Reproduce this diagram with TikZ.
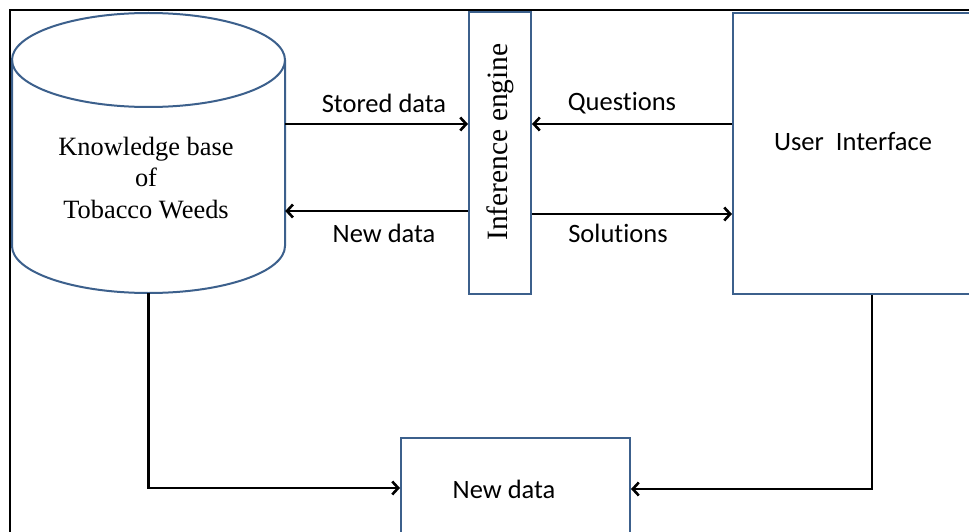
\documentclass[tikz,border=0pt]{standalone}
\usepackage{fontspec}
\setmainfont{Liberation Serif}
\newfontfamily\labelfont[Ligatures=NoCommon]{Carlito}
\usetikzlibrary{arrows.meta}
\definecolor{boxblue}{RGB}{60,96,140}
\begin{document}
\begin{tikzpicture}[x=1pt,y=-1pt,
  block/.style={draw=boxblue,line width=2pt,fill=white,inner sep=0pt},
  arr/.style={line width=2.6pt,-{Straight Barb[length=6pt,width=13pt,line width=2.6pt]}},
  lbl/.style={font=\labelfont\fontsize{26.5}{30}\selectfont,inner sep=0pt},
  serif/.style={font=\fontsize{26.4}{31.5}\selectfont,align=center,inner sep=0pt}]
\useasboundingbox (0,0) rectangle (969,532);
\clip (0,0) rectangle (969,532);
\fill[white] (0,0) rectangle (969,532);
% outer frame
\draw[line width=2pt] (10,10) rectangle (990,560);

% knowledge base cylinder
\draw[boxblue,line width=2pt] (148.5,60) ellipse [x radius=136.5pt, y radius=47pt];
\draw[boxblue,line width=2pt] (12,60) -- (12,246)
  arc[start angle=180,end angle=360,x radius=136.5pt,y radius=47pt] -- (285,60);
\node[inner sep=0pt,minimum width=273pt,minimum height=280pt] (kb) at (148.5,153) {};
\node[serif] (kbtext) at (146,178) {Knowledge base\\of\\Tobacco Weeds};

% inference engine
\node[block,minimum width=62pt,minimum height=282pt] (ie) at (500,153) {};
\node[serif,rotate=90,font=\fontsize{29.5}{31}\selectfont] (ietext) at (500,142) {Inference engine};

% user interface
\node[block,minimum width=267pt,minimum height=281pt] (ui) at (866.5,153.5) {};
\node[lbl] (uitext) at (853,142) {User\ \ Interface};

% new data store
\node[block,minimum width=229pt,minimum height=130pt] (nd) at (515.5,503) {};
\node[lbl] (ndtext) at (504,489) {New data};

% connectors between the upper blocks
\draw[arr] (kb.east |- 0,124) -- (ie.west |- 0,124);
\draw[arr] (ui.west |- 0,124) -- (ie.east |- 0,124);
\draw[arr] (ie.west |- 0,211) -- (kb.east |- 0,211);
\draw[arr] (ie.east |- 0,214) -- (ui.west |- 0,214);
\node[lbl] (l1) at (384,103) {Stored data};
\node[lbl] (l2) at (384,233) {New data};
\node[lbl] (l3) at (622,103) {Questions};
\node[lbl] (l4) at (618,233) {Solutions};

% feeds into the new data block
\draw[arr] (kb.south) |- (nd.west |- 0,488);
\draw[arr] (ui.south -| 872,0) |- (nd.east |- 0,489);
\end{tikzpicture}
\end{document}
